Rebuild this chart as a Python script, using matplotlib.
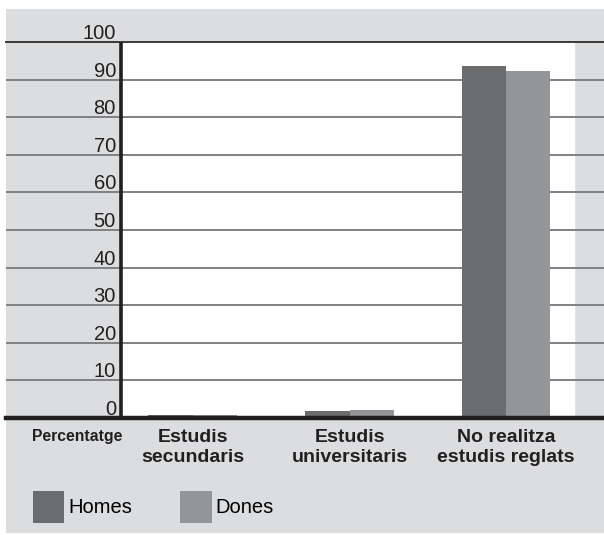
import matplotlib
matplotlib.use("Agg")
import matplotlib.pyplot as plt
import matplotlib.transforms as mtransforms
from matplotlib.patches import Rectangle

categories = ["Estudis\nsecundaris", "Estudis\nuniversitaris", "No realitza\nestudis reglats"]
homes = [0.7, 1.9, 93.7]
dones = [0.7, 2.1, 92.4]
series_names = ["Homes", "Dones"]
yticks = [0, 10, 20, 30, 40, 50, 60, 70, 80, 90, 100]

BG = "#dcdddf"
C_HOMES = "#6b6c6e"
C_DONES = "#949598"
INK = "#231f20"

W, H = 604, 535
fig = plt.figure(figsize=(W / 100, H / 100), dpi=100)
fig.patch.set_facecolor("white")

# grey panel behind everything
fig.add_artist(Rectangle((6 / W, 2 / H), (W - 6) / W, (533 - 9) / H,
                         transform=fig.transFigure, facecolor=BG,
                         edgecolor="none", zorder=-10))

# axes span the full grey width so the grid runs edge to edge
ax = fig.add_axes([6 / W, (H - 418) / H, (W - 6) / W, (418 - 42) / H])
ax.set_facecolor("none")
for s in ax.spines.values():
    s.set_visible(False)
ax.set_xticks([])
ax.set_yticks([])

step = 156.5  # pixels between category centres
ax.set_xlim(-(193 - 6) / step, 2 + (604 - 506) / step)
ax.set_ylim(0, 100)

x_left = (121 - 193) / step
x_right = 2 + (574 - 506) / step
ax.axvspan(x_left, x_right, color="white", zorder=0)

bw = 44.5 / step
idx = list(range(len(categories)))
b1 = ax.bar([i - bw / 2 for i in idx], homes, width=bw, color=C_HOMES,
            zorder=3, label=series_names[0])
b2 = ax.bar([i + bw / 2 for i in idx], dones, width=bw, color=C_DONES,
            zorder=3, label=series_names[1])

# value labels sit just above their grid line
ytrans = (mtransforms.blended_transform_factory(ax.transAxes, ax.transData)
          + mtransforms.ScaledTranslation(0, 3 / 100, fig.dpi_scale_trans))
for v in yticks:
    if v == 0:
        ax.axhline(v, color=INK, lw=3.2, zorder=5, clip_on=False)
    elif v == 100:
        ax.axhline(v, color="#3a3a3a", lw=1.4, zorder=2, clip_on=False)
    else:
        ax.axhline(v, color="#808183", lw=1.4, zorder=2)
    ax.text((116 - 6) / (W - 6), v, str(v), ha="right", va="baseline",
            fontsize=14.5, family="Liberation Sans", color=INK,
            transform=ytrans)

ax.plot([x_left, x_left], [0, 100], color=INK, lw=2.6, zorder=4,
        solid_capstyle="butt")

trans = mtransforms.blended_transform_factory(ax.transData, ax.transAxes)
for i, lab in enumerate(categories):
    ax.text(i, -0.028, lab, ha="center", va="top", fontsize=14,
            fontweight="bold", family="Liberation Sans", color=INK,
            linespacing=1.3, transform=trans)

ax.text((77 - 6) / (W - 6), (418 - 436) / 376, "Percentatge", ha="center",
        va="center", fontsize=11.3, fontweight="bold", family="Liberation Sans",
        color=INK, transform=ax.transAxes)

fig.legend(handles=[b1, b2], labels=series_names, loc="lower left",
           bbox_to_anchor=(33 / W, 12 / H), ncol=2, frameon=False,
           prop={"family": "Liberation Sans", "size": 14.5},
           handlelength=1.55, handleheight=2.05, handletextpad=0.2,
           columnspacing=2.4, borderpad=0, borderaxespad=0)

fig.savefig("out.png", dpi=100, facecolor=fig.get_facecolor())
